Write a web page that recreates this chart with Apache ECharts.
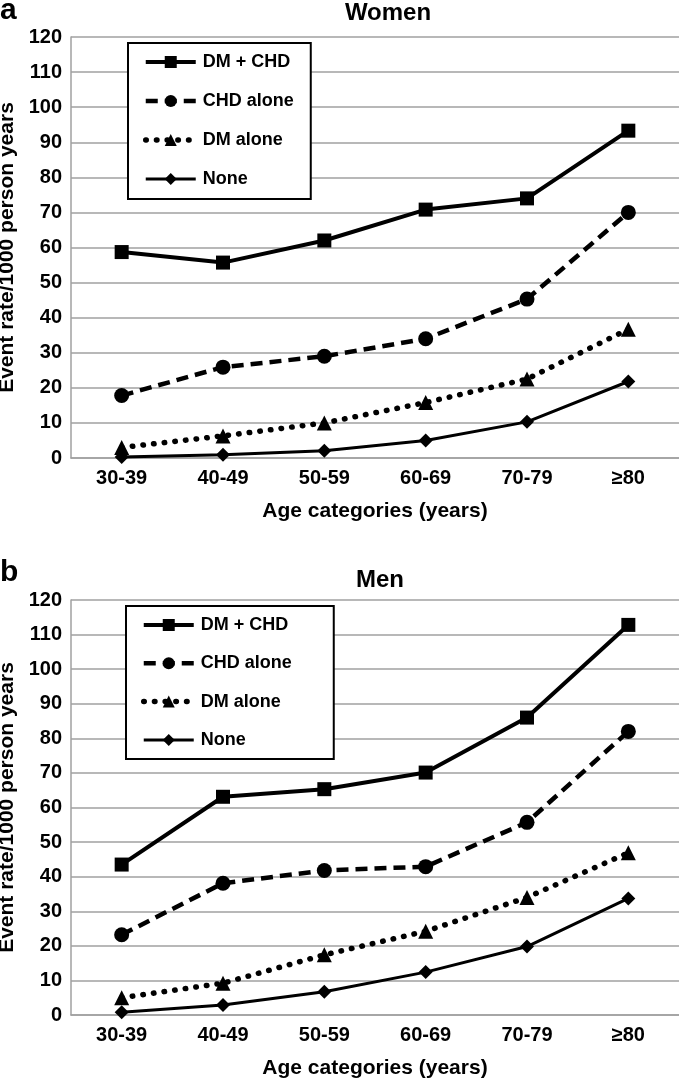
<!DOCTYPE html>
<html>
<head>
<meta charset="utf-8">
<script src="https://cdn.jsdelivr.net/npm/echarts@6/dist/echarts.min.js"></script>
<style>
html,body{margin:0;padding:0;background:#fff;}
#chart{width:679px;height:1079px;}
</style>
</head>
<body>
<div id="chart"></div>
<script>
var categories = ['30-39', '40-49', '50-59', '60-69', '70-79', '\u226580'];
var seriesNames = ['DM + CHD', 'CHD alone', 'DM alone', 'None'];
var yTicks = [0, 10, 20, 30, 40, 50, 60, 70, 80, 90, 100, 110, 120];

var womenDmChd = [58.7, 55.7, 62.0, 70.8, 74.0, 93.3];
var womenChd   = [17.8, 25.9, 29.0, 34.0, 45.3, 70.0];
var womenDm    = [3.0, 6.3, 10.0, 15.8, 22.5, 36.7];
var womenNone  = [0.3, 0.9, 2.1, 5.0, 10.3, 21.8];

var menDmChd = [43.5, 63.1, 65.3, 70.1, 86.0, 112.8];
var menChd   = [23.2, 38.1, 41.8, 42.9, 55.7, 82.0];
var menDm    = [5.0, 9.2, 17.4, 24.2, 34.0, 46.9];
var menNone  = [0.8, 2.9, 6.7, 12.4, 19.8, 33.7];

var FONT = 'Liberation Sans';
var GRID_COLOR = '#a0a0a0';

var styles = [
  {symbol: 'rect', symbolSize: 14, lineStyle: {color: '#000', width: 4, type: 'solid'}},
  {symbol: 'circle', symbolSize: 15, lineStyle: {color: '#000', width: 4.5, type: [12, 7], cap: 'butt'}},
  {symbol: 'triangle', symbolSize: 15, lineStyle: {color: '#000', width: 5.5, type: [0.5, 10.2], cap: 'round'}},
  {symbol: 'diamond', symbolSize: 14, lineStyle: {color: '#000', width: 3, type: 'solid'}}
];

function makeSeries(values, idx, axisIndex) {
  var s = styles[idx];
  return {
    type: 'line',
    name: seriesNames[idx],
    xAxisIndex: axisIndex,
    yAxisIndex: axisIndex,
    data: values,
    symbol: s.symbol,
    symbolSize: s.symbolSize,
    showSymbol: true,
    color: '#000',
    itemStyle: {color: '#000'},
    lineStyle: s.lineStyle,
    z: 10 - idx
  };
}

function xAxisCfg(gridIndex) {
  return {
    type: 'category',
    gridIndex: gridIndex,
    data: categories,
    boundaryGap: true,
    axisLine: {show: true, lineStyle: {color: GRID_COLOR, width: 1.5}},
    axisTick: {show: false},
    axisLabel: {color: '#000', fontFamily: FONT, fontWeight: 'bold', fontSize: 20, margin: 10},
    name: 'Age categories (years)',
    nameLocation: 'middle',
    nameGap: 43,
    nameTextStyle: {color: '#000', fontFamily: FONT, fontWeight: 'bold', fontSize: 21}
  };
}

function yAxisCfg(gridIndex) {
  return {
    type: 'value',
    gridIndex: gridIndex,
    min: yTicks[0],
    max: yTicks[yTicks.length - 1],
    interval: yTicks[1] - yTicks[0],
    axisLine: {show: true, lineStyle: {color: GRID_COLOR, width: 1.5}},
    axisTick: {show: false},
    splitLine: {show: true, lineStyle: {color: GRID_COLOR, width: 1.5}},
    axisLabel: {color: '#000', fontFamily: FONT, fontWeight: 'bold', fontSize: 20, margin: 9},
    name: 'Event rate/1000 person years',
    nameLocation: 'middle',
    nameRotate: 90,
    nameGap: 45,
    nameTextStyle: {color: '#000', fontFamily: FONT, fontWeight: 'bold', fontSize: 21}
  };
}

function legendCfg(left, top, padding, gap) {
  return {
    orient: 'vertical',
    left: left,
    top: top,
    padding: padding,
    itemGap: gap,
    itemWidth: 50,
    itemHeight: 15,
    backgroundColor: '#fff',
    borderColor: '#000',
    borderWidth: 2,
    selectedMode: false,
    data: seriesNames,
    lineStyle: {width: 'inherit', type: 'inherit', cap: 'inherit', color: 'inherit'},
    textStyle: {color: '#000', fontFamily: FONT, fontWeight: 'bold', fontSize: 18, lineHeight: 18, padding: [0, 0, 0, 2]}
  };
}

var chart = echarts.init(document.getElementById('chart'), null, {renderer: 'canvas'});
var option = {
  animation: false,
  backgroundColor: '#fff',
  grid: [
    {left: 71, top: 37, width: 608, height: 421, containLabel: false, outerBoundsMode: 'none'},
    {left: 71, top: 600, width: 608, height: 415, containLabel: false, outerBoundsMode: 'none'}
  ],
  xAxis: [xAxisCfg(0), xAxisCfg(1)],
  yAxis: [yAxisCfg(0), yAxisCfg(1)],
  legend: [
    legendCfg(128, 43, [10, 17, 11, 15], 21),
    legendCfg(126, 606, [10, 42, 10, 15], 20.3)
  ],
  graphic: [
    {type: 'text', left: 0, top: -4, style: {text: 'a', font: 'bold 30px "Liberation Sans"', fill: '#000'}},
    {type: 'text', left: 0, top: 558, style: {text: 'b', font: 'bold 30px "Liberation Sans"', fill: '#000'}},
    {type: 'text', x: 388, y: 13, style: {text: 'Women', font: 'bold 24px "Liberation Sans"', fill: '#000', textAlign: 'center', textVerticalAlign: 'middle'}},
    {type: 'text', x: 380, y: 580, style: {text: 'Men', font: 'bold 24px "Liberation Sans"', fill: '#000', textAlign: 'center', textVerticalAlign: 'middle'}}
  ],
  series: [
    makeSeries(womenDmChd, 0, 0),
    makeSeries(womenChd, 1, 0),
    makeSeries(womenDm, 2, 0),
    makeSeries(womenNone, 3, 0),
    makeSeries(menDmChd, 0, 1),
    makeSeries(menChd, 1, 1),
    makeSeries(menDm, 2, 1),
    makeSeries(menNone, 3, 1)
  ]
};
chart.setOption(option);
</script>
</body>
</html>
